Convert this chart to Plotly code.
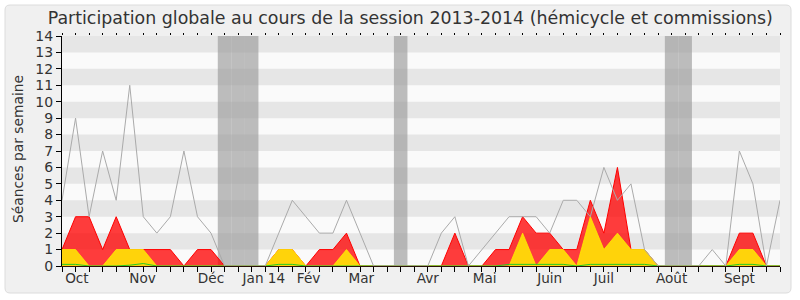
import plotly.graph_objects as go

weeks = list(range(54))
median_presence = [4, 9, 3, 7, 4, 11, 3, 2, 3, 7, 3, 2, 0, 0, 0, 0, 2, 4, 3, 2,
                   2, 4, 2, 0, 0, 0, 0, 0, 2, 3, 0, 1, 2, 3, 3, 3, 2, 4, 4, 3,
                   6, 4, 5, 1, 0, 0, 0, 0, 1, 0, 7, 5, 0, 4]
total_presence = [1, 3, 3, 1, 3, 1, 1, 1, 1, 0, 1, 1, 0, 0, 0, 0, 1, 1, 0, 1,
                  1, 2, 0, 0, 0, 0, 0, 0, 0, 2, 0, 0, 1, 1, 3, 2, 2, 1, 1, 4,
                  2, 6, 1, 1, 0, 0, 0, 0, 0, 0, 2, 2, 0, 0]
hemicycle_presence = [1, 1, 0, 0, 1, 1, 1, 0, 0, 0, 0, 0, 0, 0, 0, 0, 1, 1, 0, 0,
                      0, 1, 0, 0, 0, 0, 0, 0, 0, 0, 0, 0, 0, 0, 2, 0, 1, 1, 0, 3,
                      1, 2, 1, 1, 0, 0, 0, 0, 0, 0, 1, 1, 0, 0]
interventions = [0.1, 0.1, 0, 0, 0, 0.05, 0.15, 0, 0, 0, 0, 0, 0, 0, 0, 0, 0.1, 0.1, 0, 0,
                 0, 0, 0, 0, 0, 0, 0, 0, 0, 0, 0, 0, 0, 0.1, 0.1, 0.1, 0.1, 0.1, 0, 0.1,
                 0.1, 0.1, 0.1, 0.1, 0, 0, 0, 0, 0, 0, 0.1, 0.1, 0, 0]
vacation_weeks = [12, 13, 14, 25, 45, 46]
month_positions = [1.1, 5.95, 11, 14.9, 18.2, 22.1, 27, 31.2, 36, 40, 45, 50]
month_labels = ["Oct", "Nov", "Déc", "Jan 14", "Fév", "Mar", "Avr", "Mai", "Juin", "Juil", "Août", "Sept"]
y_max = 14

FONT = "DejaVu Sans"
TXT = "#333333"

fig = go.Figure()
fig.add_trace(go.Scatter(x=weeks, y=total_presence, mode="lines", fill="tozeroy",
                         line=dict(color="#ff0000", width=1), fillcolor="rgba(255,0,0,0.76)",
                         hoverinfo="skip", showlegend=False))
fig.add_trace(go.Scatter(x=weeks, y=hemicycle_presence, mode="lines", fill="tozeroy",
                         line=dict(color="rgba(255,235,0,0.8)", width=1), fillcolor="#ffd30a",
                         hoverinfo="skip", showlegend=False))
fig.add_trace(go.Scatter(x=weeks, y=interventions, mode="lines",
                         line=dict(color="#22cc22", width=1),
                         hoverinfo="skip", showlegend=False))
fig.add_trace(go.Scatter(x=weeks, y=median_presence, mode="lines",
                         line=dict(color="#aaaaaa", width=1),
                         hoverinfo="skip", showlegend=False))
# dummy trace for top tick axis
fig.add_trace(go.Scatter(x=[0], y=[0], xaxis="x2", mode="lines", line=dict(width=0),
                         hoverinfo="skip", showlegend=False))

shapes = []
L, R, T, B = 62, 20, 36, 34
pw, ph = 800 - L - R, 300 - T - B
# outer frame (rounded)
fx0, fx1 = (5 - L) / pw, (791 - L) / pw
fy0, fy1 = (300 - B - 293) / ph, (300 - B - 5) / ph
rx, ry = 5 / pw, 5 / ph
path = (f"M{fx0+rx},{fy1} L{fx1-rx},{fy1} Q{fx1},{fy1} {fx1},{fy1-ry} "
        f"L{fx1},{fy0+ry} Q{fx1},{fy0} {fx1-rx},{fy0} L{fx0+rx},{fy0} "
        f"Q{fx0},{fy0} {fx0},{fy0+ry} L{fx0},{fy1-ry} Q{fx0},{fy1} {fx0+rx},{fy1} Z")
shapes.append(dict(type="path", path=path, xref="paper", yref="paper", layer="below",
                   fillcolor="#f0f0f0", line=dict(color="#dcdcdc", width=1)))
# plot area background
shapes.append(dict(type="rect", xref="paper", yref="paper", x0=0, x1=1, y0=0, y1=1,
                   fillcolor="#fafafa", line=dict(width=0), layer="below"))
for k in range(1, y_max, 2):
    shapes.append(dict(type="rect", xref="paper", yref="y", x0=0, x1=1, y0=k, y1=k + 1,
                       fillcolor="#e6e6e6", line=dict(width=0), layer="below"))
for w in vacation_weeks:
    shapes.append(dict(type="rect", xref="x", yref="paper", x0=w - 0.5, x1=w + 0.5, y0=0, y1=1,
                       fillcolor="rgba(150,150,150,0.62)", line=dict(width=0), layer="below"))

fig.update_layout(
    width=800, height=300,
    margin=dict(l=L, r=R, t=T, b=B),
    paper_bgcolor="#ffffff", plot_bgcolor="#fafafa",
    shapes=shapes,
    title=dict(text="Participation globale au cours de la session 2013-2014 (hémicycle et commissions)",
               x=47.7 / 800, xanchor="left", xref="container", y=1 - 18 / 300, yanchor="middle",
               font=dict(family=FONT, size=17.4, color=TXT)),
    xaxis=dict(range=[0, len(weeks) - 1], showgrid=False, zeroline=False,
               showline=True, linecolor="#2a1208", linewidth=1,
               tickmode="array", tickvals=month_positions, ticktext=month_labels,
               ticks="", tickfont=dict(family=FONT, size=13.6, color=TXT),
               minor=dict(tickmode="array", tickvals=weeks, ticks="outside", ticklen=5,
                          tickcolor="#000000", tickwidth=1, showgrid=False)),
    xaxis2=dict(range=[0, len(weeks) - 1], overlaying="x", side="top", showgrid=False,
                zeroline=False, showline=False, tickmode="array", tickvals=weeks,
                ticks="outside", ticklen=2, tickcolor="#000000", showticklabels=False),
    yaxis=dict(range=[0, y_max], showgrid=False, zeroline=False,
               showline=True, linecolor="#000000", linewidth=1,
               tickmode="array", tickvals=list(range(0, y_max + 1)),
               ticks="outside", ticklen=5, tickcolor="#000000",
               tickfont=dict(family=FONT, size=14, color=TXT)),
    annotations=[dict(text="Séances par semaine", textangle=-90, xref="paper", yref="paper",
                      x=(18 - L) / pw, y=(300 - B - 149) / ph, xanchor="center", yanchor="middle",
                      showarrow=False, font=dict(family=FONT, size=13.8, color=TXT))],
)

fig.write_html("out.html")
